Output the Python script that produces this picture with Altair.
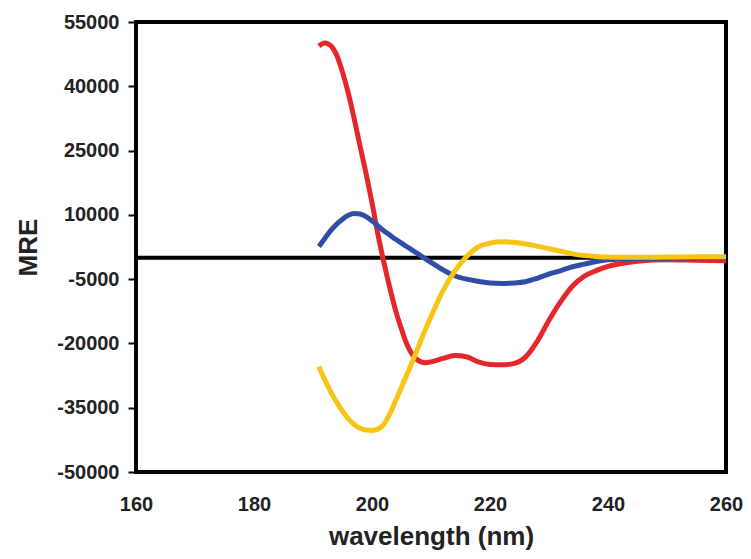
import altair as alt
import pandas as pd

wavelength = [191, 192, 193, 194, 195, 196, 197, 198, 199, 200, 201, 202, 203, 204, 205,
              206, 207, 208, 209, 210, 212, 214, 216, 218, 220, 222, 224, 226, 228, 230,
              232, 234, 236, 238, 240, 242, 245, 250, 255, 260]

red = [49400, 50100, 49500, 47300, 43300, 38300, 32300, 25900, 19600, 12800, 5500, -1000,
       -6900, -12300, -16700, -20500, -22900, -24100, -24500, -24300, -23500, -22800, -23100,
       -24300, -24900, -25000, -24700, -23200, -19500, -14600, -10200, -6600, -4300, -3000,
       -2000, -1400, -800, -500, -600, -700]

blue = [2600, 4500, 6300, 7800, 9000, 9900, 10300, 10200, 9600, 8600, 7400, 6300, 5300, 4300,
        3400, 2500, 1600, 700, -200, -1100, -2800, -4200, -5000, -5500, -5900, -6000, -5900,
        -5600, -4800, -3800, -3000, -2100, -1500, -900, -500, -300, -200, -100, 0, 0]

yellow = [-25400, -28500, -31300, -33700, -35800, -37600, -38900, -39800, -40200, -40300,
          -40000, -38900, -36500, -33400, -30200, -27000, -23700, -20300, -16900, -13700,
          -7800, -3200, 200, 2500, 3400, 3700, 3600, 3200, 2700, 2100, 1500, 900, 500, 300,
          150, 100, 100, 150, 200, 200]

series_names = ["red", "blue", "yellow"]
series_colors = ["#E5262B", "#2F4FA6", "#F8C516"]
y_ticks = [-50000, -35000, -20000, -5000, 10000, 25000, 40000, 55000]
x_ticks = [160, 180, 200, 220, 240, 260]

rows = []
for name, vals in zip(series_names, [red, blue, yellow]):
    for w, v in zip(wavelength, vals):
        rows.append({"wavelength": w, "MRE": v, "series": name})
df = pd.DataFrame(rows)

xscale = alt.Scale(domain=[160, 260], nice=False, zero=False)
yscale = alt.Scale(domain=[-50000, 55000], nice=False, zero=False)

zero = alt.Chart(pd.DataFrame({"y": [0]})).mark_rule(color="black", strokeWidth=4).encode(
    y=alt.Y("y:Q", scale=yscale)
)

lines = alt.Chart(df).mark_line(strokeWidth=5, interpolate="monotone").encode(
    x=alt.X("wavelength:Q", scale=xscale, title="wavelength (nm)",
            axis=alt.Axis(values=x_ticks, ticks=False, domain=False, grid=False,
                          labelExpr="'' + datum.value", labelFlush=False, labelOverlap=False,
                          labelFontSize=20, labelFontWeight="bold", labelColor="#222",
                          labelFont="Liberation Sans", labelPadding=22,
                          titleFontSize=26, titleFontWeight="bold", titleColor="#222",
                          titleFont="Liberation Sans", titlePadding=9)),
    y=alt.Y("MRE:Q", scale=yscale, title="MRE",
            axis=alt.Axis(values=y_ticks, ticks=True, tickSize=8, tickWidth=2, tickColor="black",
                          domain=False, grid=False,
                          labelExpr="'' + datum.value", labelFlush=False, labelOverlap=False,
                          labelFontSize=20, labelFontWeight="bold", labelColor="#222",
                          labelFont="Liberation Sans", labelPadding=9,
                          titleFontSize=26, titleFontWeight="bold", titleColor="#222",
                          titleFont="Liberation Sans", titlePadding=15)),
    color=alt.Color("series:N", scale=alt.Scale(domain=series_names, range=series_colors),
                    legend=None),
    detail="series:N",
)

chart = alt.layer(zero, lines).properties(
    width=590, height=450,
    background="white",
    autosize=alt.AutoSizeParams(type="none"),
    padding={"left": 128, "top": 14, "right": 17, "bottom": 79},
).configure_view(stroke="black", strokeWidth=4)

chart.save("out.html", embed_options={"renderer": "svg", "actions": False})
